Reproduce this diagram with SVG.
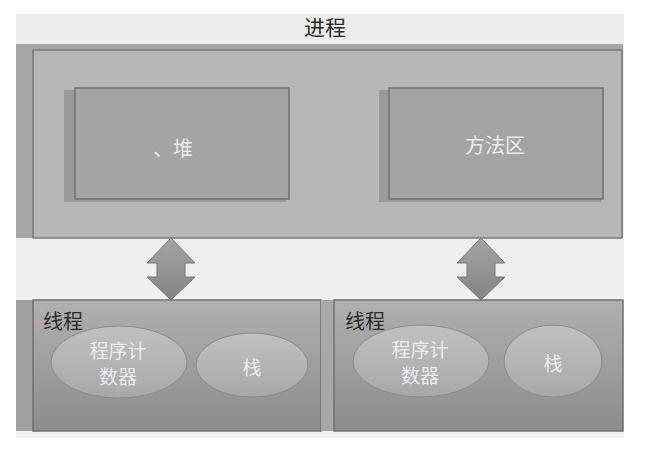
<svg xmlns="http://www.w3.org/2000/svg" width="652" height="454" viewBox="0 0 652 454">
<defs>
<linearGradient id="bgGrad" x1="0" y1="0" x2="0" y2="1">
<stop offset="0" stop-color="#ececec"/>
<stop offset="1" stop-color="#f2f2f2"/>
</linearGradient>
<linearGradient id="threadGrad" x1="0" y1="0" x2="0" y2="1">
<stop offset="0" stop-color="#b0b0b0"/>
<stop offset="1" stop-color="#8c8c8c"/>
</linearGradient>
<linearGradient id="ellGrad" x1="0" y1="0" x2="0" y2="1">
<stop offset="0" stop-color="#c0c0c0"/>
<stop offset="1" stop-color="#a8a8a8"/>
</linearGradient>
<linearGradient id="arrowGrad" x1="0" y1="0" x2="0" y2="1">
<stop offset="0" stop-color="#a4a4a4"/>
<stop offset="1" stop-color="#848484"/>
</linearGradient>
<style>
.frame{fill:#b6b6b6;stroke:#7a7a7a;stroke-width:1.5}
.inner{fill:#a4a4a4;stroke:#707070;stroke-width:1.5}
.shadow{fill:#9a9a9a}
.thread{fill:url(#threadGrad);stroke:#707070;stroke-width:1.5}
.ell{fill:url(#ellGrad);stroke:#8a8a8a;stroke-width:1}
.arrow{fill:url(#arrowGrad);stroke:#777;stroke-width:1}
.dark{font-family:"Noto Sans CJK SC","Noto Sans",sans-serif;fill:#2a2a2a}
.light{font-family:"Noto Sans CJK SC","Noto Sans",sans-serif;fill:#ececec;text-anchor:middle}
</style>
</defs>
<rect x="16" y="14" width="608" height="424" fill="url(#bgGrad)"/>
<g id="process">
<rect x="16" y="44" width="607" height="194" fill="#a6a6a6"/>
<rect class="frame" x="33" y="50" width="589" height="188"/>
<text class="dark" x="325" y="35" font-size="21" text-anchor="middle">进程</text>
</g>
<g id="heap">
<rect class="shadow" x="64" y="90" width="222" height="112"/>
<rect class="inner" x="75" y="88" width="214" height="111"/>
<text class="light" x="173" y="156" font-size="20">、堆</text>
</g>
<g id="method-area">
<rect class="shadow" x="379" y="90" width="222" height="112"/>
<rect class="inner" x="389" y="88" width="214" height="111"/>
<text class="light" x="495" y="153" font-size="20">方法区</text>
</g>
<g id="connectors">
<path class="arrow" d="M171,238 L195,263 L185,263 L185,277 L195,277 L171,300 L147,277 L157,277 L157,263 L147,263 Z"/>
<path class="arrow" d="M481,238 L505,263 L495,263 L495,277 L505,277 L481,300 L457,277 L467,277 L467,263 L457,263 Z"/>
</g>
<g id="thread1">
<rect x="16" y="300" width="18" height="131" fill="#a0a0a0"/>
<rect class="thread" x="33" y="300" width="288" height="131"/>
<text class="dark" x="43" y="329" font-size="20">线程</text>
<ellipse class="ell" cx="119" cy="362" rx="68" ry="36"/>
<text class="light" x="118" y="358" font-size="19">程序计</text>
<text class="light" x="118" y="384" font-size="19">数器</text>
<ellipse class="ell" cx="252" cy="365" rx="56" ry="32"/>
<text class="light" x="252" y="375" font-size="19">栈</text>
</g>
<g id="thread2">
<rect x="321" y="300" width="13" height="131" fill="#a8a8a8"/>
<rect class="thread" x="334" y="300" width="289" height="131"/>
<text class="dark" x="345" y="329" font-size="20">线程</text>
<ellipse class="ell" cx="421" cy="361" rx="68" ry="36"/>
<text class="light" x="420" y="357" font-size="19">程序计</text>
<text class="light" x="420" y="383" font-size="19">数器</text>
<ellipse class="ell" cx="553" cy="361" rx="49" ry="36"/>
<text class="light" x="553" y="371" font-size="19">栈</text>
</g>
</svg>
